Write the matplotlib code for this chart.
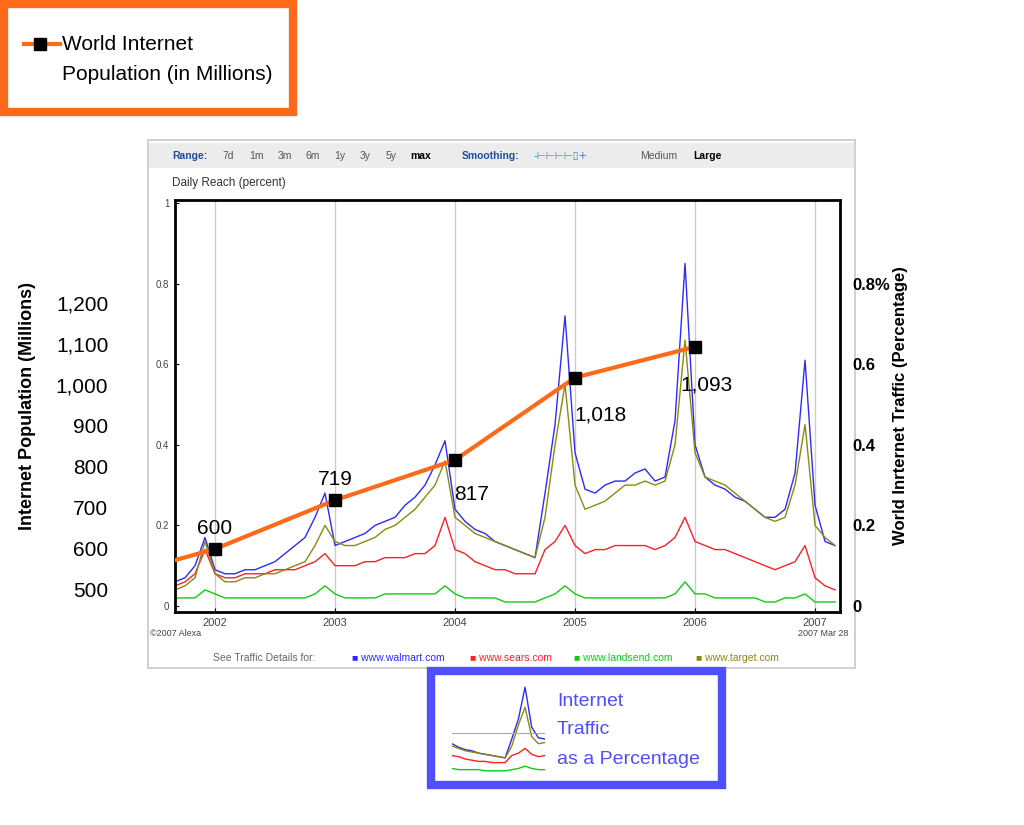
import numpy as np
import matplotlib.pyplot as plt
from matplotlib.patches import Rectangle

plt.rcParams['font.family'] = ['Liberation Sans', 'DejaVu Sans']

W, H = 1024, 825

# monthly sample points, Sep 2001 .. Mar 2007
months = np.arange(67)
dates = 2001 + 8 / 12 + months / 12

walmart = [.06, .07, .10, .17,
           .09, .08, .08, .09, .09, .10, .11, .13, .15, .17, .22, .28,
           .15, .16, .17, .18, .20, .21, .22, .25, .27, .30, .35, .41,
           .24, .21, .19, .18, .16, .15, .14, .13, .12, .28, .45, .72,
           .38, .29, .28, .30, .31, .31, .33, .34, .31, .32, .46, .85,
           .40, .32, .30, .29, .27, .26, .24, .22, .22, .24, .33, .61,
           .25, .16, .15]
target = [.04, .05, .07, .16,
          .08, .06, .06, .07, .07, .08, .08, .09, .10, .11, .15, .20,
          .16, .15, .15, .16, .17, .19, .20, .22, .24, .27, .30, .36,
          .22, .20, .18, .17, .16, .15, .14, .13, .12, .22, .40, .55,
          .30, .24, .25, .26, .28, .30, .30, .31, .30, .31, .40, .66,
          .38, .32, .31, .30, .28, .26, .24, .22, .21, .22, .30, .45,
          .20, .17, .15]
sears = [.05, .06, .08, .14,
         .08, .07, .07, .08, .08, .08, .09, .09, .09, .10, .11, .13,
         .10, .10, .10, .11, .11, .12, .12, .12, .13, .13, .15, .22,
         .14, .13, .11, .10, .09, .09, .08, .08, .08, .14, .16, .20,
         .15, .13, .14, .14, .15, .15, .15, .15, .14, .15, .17, .22,
         .16, .15, .14, .14, .13, .12, .11, .10, .09, .10, .11, .15,
         .07, .05, .04]
landsend = [.02, .02, .02, .04,
            .03, .02, .02, .02, .02, .02, .02, .02, .02, .02, .03, .05,
            .03, .02, .02, .02, .02, .03, .03, .03, .03, .03, .03, .05,
            .03, .02, .02, .02, .02, .01, .01, .01, .01, .02, .03, .05,
            .03, .02, .02, .02, .02, .02, .02, .02, .02, .02, .03, .06,
            .03, .03, .02, .02, .02, .02, .02, .01, .01, .02, .02, .03,
            .01, .01, .01]

pop_years = [2001.67, 2002, 2003, 2004, 2005, 2006]
pop_values = [573, 600, 719, 817, 1018, 1093]
pop_labels = ['', '600', '719', '817', '1,018', '1,093']

series = [(walmart, '#2b2bff'), (sears, '#ff2020'), (landsend, '#10cc10'), (target, '#8a8a10')]


def box(x0, y0, x1, y1):
    return [x0 / W, 1 - y1 / H, (x1 - x0) / W, (y1 - y0) / H]


def rect(x0, y0, x1, y1, **kw):
    fig.patches.append(Rectangle((x0 / W, 1 - y1 / H), (x1 - x0) / W, (y1 - y0) / H,
                                 transform=fig.transFigure, zorder=-5, **kw))


fig = plt.figure(figsize=(10.24, 8.25), dpi=100)

# gray panel around the Alexa chart
rect(148, 140, 855, 668, fc='white', ec='#c8c8c8', lw=1.2)
rect(149, 143, 854, 168, fc='#ececec', ec='none')
tb_y = 1 - 156 / H
fig.text(172 / W, tb_y, 'Range:', color='#1f4e9c', fontsize=7.5, weight='bold', va='center')
for lab, xp in zip(['7d', '1m', '3m', '6m', '1y', '3y', '5y'], [222, 249, 278, 306, 334, 360, 386]):
    fig.text(xp / W, tb_y, lab, color='#555555', fontsize=7.5, va='center')
fig.text(410 / W, tb_y, 'max', color='black', fontsize=7.5, weight='bold', va='center')
fig.text(462 / W, tb_y, 'Smoothing:', color='#1f4e9c', fontsize=7.5, weight='bold', va='center')
fig.text(533 / W, tb_y, '-⊢⊢⊢⊢▯+', color='#3a7ed0', fontsize=7.5, va='center',
         family=['DejaVu Sans'])
fig.text(640 / W, tb_y, 'Medium', color='#555555', fontsize=7.5, va='center')
fig.text(693 / W, tb_y, 'Large', color='black', fontsize=7.5, weight='bold', va='center')
fig.text(172 / W, 1 - 183 / H, 'Daily Reach (percent)', color='#333333', fontsize=8.5, va='center')

ax = fig.add_axes(box(175, 200, 840, 612))
ylo, yhi = -6 / 403, 1 + 3 / 403
xlo, xhi = 2001 + 2 / 3, 2007.208
for vals, col in series:
    ax.plot(dates, vals, color=col, lw=1.0)
ax.set_xlim(xlo, xhi)
ax.set_ylim(ylo, yhi)
ax.set_xticks([2002, 2003, 2004, 2005, 2006, 2007])
ax.set_xticklabels(['2002', '2003', '2004', '2005', '2006', '2007'], fontsize=8, color='#444444')
ax.set_yticks([0, 0.2, 0.4, 0.6, 0.8, 1])
ax.set_yticklabels(['0', '0.2', '0.4', '0.6', '0.8', '1'], fontsize=7, color='#444444')
ax.tick_params(length=3, direction='in', pad=4)
ax.grid(axis='x', color='#cccccc', lw=1)
for s in ax.spines.values():
    s.set_linewidth(2)

fig.text(150 / W, 1 - 634 / H, '©2007 Alexa', fontsize=6.5, color='#444444', va='center')
fig.text(848 / W, 1 - 634 / H, '2007 Mar 28', fontsize=6.5, color='#444444', va='center', ha='right')
fig.text(213 / W, 1 - 658 / H, 'See Traffic Details for:', fontsize=7.5, color='#666666', va='center')
for (lab, col), xp in zip([('www.walmart.com', '#2b2bff'), ('www.sears.com', '#ff2020'),
                           ('www.landsend.com', '#10cc10'), ('www.target.com', '#8a8a10')],
                          [352, 470, 574, 696]):
    fig.text(xp / W, 1 - 658 / H, '■ ' + lab, fontsize=7.5, color=col, va='center')

# right axis labels (percentage)
axr = ax.twinx()
axr.set_ylim(ylo, yhi)
axr.set_yticks([0, 0.2, 0.4, 0.6, 0.8])
axr.set_yticklabels(['0', '0.2', '0.4', '0.6', '0.8%'], fontsize=12, weight='bold')
axr.tick_params(length=0, pad=9)
axr.set_ylabel('World Inrternet Traffic (Percentage)', fontsize=12, weight='bold', labelpad=2)
for s in axr.spines.values():
    s.set_visible(False)

# population axis on the left
axp = ax.twinx()
axp.yaxis.set_label_position('left')
axp.yaxis.tick_left()
axp.set_ylim(446.3, 1451)
axp.set_yticks([500, 600, 700, 800, 900, 1000, 1100, 1200])
axp.set_yticklabels(['500', '600', '700', '800', '900', '1,000', '1,100', '1,200'], fontsize=15)
axp.tick_params(length=0, pad=48)
axp.set_ylabel('Internet Population (Millions)', fontsize=13, weight='bold', labelpad=14)
for s in axp.spines.values():
    s.set_visible(False)
axp.plot(pop_years, pop_values, color='#ff6a1a', lw=3, marker='s', ms=9,
         mfc='black', mec='black', markevery=[1, 2, 3, 4, 5])
offsets = [(0, 0), (0, 8), (0, 8), (12, -32), (18, -34), (8, -34)]
for xv, yv, lab, (dx, dy) in zip(pop_years, pop_values, pop_labels, offsets):
    axp.annotate(lab, (xv, yv), xytext=(dx, dy), textcoords='offset points',
                 ha='center', va='bottom', fontsize=15)

# top-left legend box
rect(4, 4, 293, 112, fc='white', ec='#ff6a1a', lw=6)
fig.lines.append(plt.Line2D([24 / W, 40 / W, 60 / W], [1 - 44 / H] * 3, transform=fig.transFigure,
                            color='#ff6a1a', lw=3, marker='s', ms=8, mfc='black', mec='black',
                            markevery=[1]))
fig.text(62 / W, 1 - 44 / H, 'World Internet', fontsize=15, va='center')
fig.text(62 / W, 1 - 74 / H, 'Population (in Millions)', fontsize=15, va='center')

# bottom blue box with a mini chart
rect(431, 671, 722, 785, fc='white', ec='#4f4fff', lw=6)
axm = fig.add_axes(box(452, 683, 545, 775))
sl = slice(28, 43)
for vals, col in series:
    axm.plot(dates[sl], vals[sl], color=col, lw=1)
axm.axhline(0.33, color='#aaaaaa', lw=0.8)
axm.set_xlim(dates[28], dates[42])
axm.set_axis_off()
for i, t in enumerate(['Internet', 'Traffic', 'as a Percentage']):
    fig.text(557 / W, 1 - (701 + i * 29) / H, t, fontsize=14, color='#4f4fff', va='center')

fig.savefig('out.png', dpi=100)
